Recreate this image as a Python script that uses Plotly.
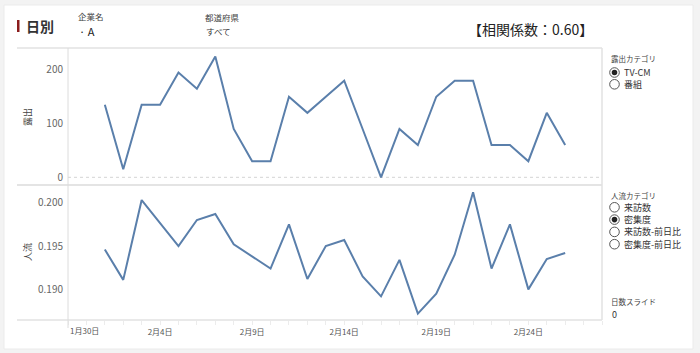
import plotly.graph_objects as go
import pandas as pd

# ---- data ----
dates = pd.date_range("2021-02-01", "2021-02-26", freq="D")
exposure = [135, 15, 135, 135, 195, 165, 225, 90, 30, 30, 150, 120, 150,
            180, 90, 0, 90, 60, 150, 180, 180, 60, 60, 30, 120, 60]
flow = [0.1946, 0.1911, 0.2003, 0.1977, 0.1950, 0.1980, 0.1987, 0.1952,
        0.1938, 0.1924, 0.1975, 0.1912, 0.1950, 0.1957, 0.1915, 0.1892,
        0.1934, 0.1872, 0.1895, 0.1940, 0.2012, 0.1924, 0.1975, 0.1900,
        0.1935, 0.1942]
x_tick_dates = ["2021-02-04", "2021-02-09", "2021-02-14", "2021-02-19", "2021-02-24"]
x_tick_text = ["2月4日", "2月9日", "2月14日", "2月19日", "2月24日"]
first_tick_date = "2021-01-30"
first_tick_text = "1月30日"
y1_ticks = [0, 100, 200]
y2_ticks = [0.190, 0.195, 0.200]
exposure_options = ["TV-CM", "番組"]
flow_options = ["来訪数", "密集度", "来訪数-前日比", "密集度-前日比"]

W, H = 700, 353
def px(x): return x / W
def py(y): return 1 - y / H

FONT = "Noto Sans CJK JP, Noto Sans, sans-serif"
LINE = "#5a7fab"
GRID = "#e2e2e2"

fig = go.Figure()
fig.add_trace(go.Scatter(x=dates, y=exposure, mode="lines",
                         line=dict(color=LINE, width=2), xaxis="x", yaxis="y",
                         showlegend=False, hoverinfo="skip"))
fig.add_trace(go.Scatter(x=dates, y=flow, mode="lines",
                         line=dict(color=LINE, width=2), xaxis="x2", yaxis="y2",
                         showlegend=False, hoverinfo="skip"))

xdom = [px(68), px(602)]
xrange = ["2021-01-30", "2021-02-28"]
fig.update_layout(
    width=W, height=H, margin=dict(l=0, r=0, t=0, b=0),
    paper_bgcolor="#f3f3f3", plot_bgcolor="white",
    font=dict(family=FONT, color="#555"),
    xaxis=dict(domain=xdom, range=xrange, showticklabels=False, showgrid=False,
               zeroline=False, anchor="y", matches="x2", showline=False),
    yaxis=dict(domain=[py(185), py(48)], range=[-14.3, 240.8], tickvals=y1_ticks,
               showgrid=False, zeroline=False, showline=False, ticks="",
               tickfont=dict(size=10, color="#666"), ticklabelstandoff=4,
               anchor="x"),
    xaxis2=dict(domain=xdom, range=xrange, showgrid=False, zeroline=False,
                tickvals=x_tick_dates, ticktext=x_tick_text, ticks="outside",
                ticklen=4, tickcolor="#ececec", showline=False,
                tickfont=dict(size=8, color="#555"),
                minor=dict(dtick=86400000, ticks="outside", ticklen=4, tickcolor="#ececec"),
                anchor="y2"),
    yaxis2=dict(domain=[py(320), py(185)], range=[0.18647, 0.20204], tickvals=y2_ticks,
                tickformat=".3f", showgrid=False, zeroline=False, showline=False,
                ticks="", tickfont=dict(size=10, color="#666"), ticklabelstandoff=4,
                anchor="x2"),
)

shapes = []
# card
shapes.append(dict(type="rect", xref="paper", yref="paper", x0=px(4), x1=px(693),
                   y0=py(349), y1=py(5), fillcolor="white", line=dict(color="#ebebeb", width=1),
                   layer="below"))
# frame lines
def hline(y, x0, x1, w=1, c=GRID):
    shapes.append(dict(type="line", xref="paper", yref="paper", x0=px(x0), x1=px(x1),
                       y0=py(y), y1=py(y), line=dict(color=c, width=w)))
def vline(x, y0, y1, w=1, c=GRID):
    shapes.append(dict(type="line", xref="paper", yref="paper", x0=px(x), x1=px(x),
                       y0=py(y0), y1=py(y1), line=dict(color=c, width=w)))
hline(48, 17, 602, 1.5)
hline(185, 17, 602, 2, "#e4e4e4")
hline(320, 17, 602, 1.5)
vline(68, 48, 328, 1, "#dcdcdc")
vline(602, 48, 320, 1.5)
# zero dotted line
shapes.append(dict(type="line", xref="x", yref="y", x0=xrange[0], x1=xrange[1], y0=0, y1=0,
                   line=dict(color="#d4d4d4", width=1, dash="dot"), layer="below"))
# red marker bar
shapes.append(dict(type="rect", xref="paper", yref="paper", x0=px(17), x1=px(19.5),
                   y0=py(32), y1=py(20), fillcolor="#8b1c1c", line=dict(width=0)))

# radio buttons
def radio(cx, cy, selected):
    r = 4.8
    shapes.append(dict(type="circle", xref="paper", yref="paper",
                       x0=px(cx - r), x1=px(cx + r), y0=py(cy + r), y1=py(cy - r),
                       fillcolor="white", line=dict(color="#555", width=1)))
    if selected:
        r2 = 2.8
        shapes.append(dict(type="circle", xref="paper", yref="paper",
                           x0=px(cx - r2), x1=px(cx + r2), y0=py(cy + r2), y1=py(cy - r2),
                           fillcolor="#222", line=dict(width=0)))

ann = []
def text(x, y, s, size, color="#333", xanchor="left", bold=False, **kw):
    ann.append(dict(xref="paper", yref="paper", x=px(x), y=py(y), text=("<b>%s</b>" % s) if bold else s,
                    showarrow=False, xanchor=xanchor, yanchor="middle",
                    font=dict(size=size, color=color, family=FONT), **kw))

text(24, 26, "日別", 14, "#333", bold=True)
text(76, 16.5, "企業名", 8.5, "#444")
text(77, 30.5, "· A", 11, "#222")
text(203, 17, "都道府県", 8.5, "#444")
text(204, 30.5, "すべて", 8.5, "#333")
text(466, 28.5, "【相関係数：0.60】", 14, "#222")

text(609, 59, "露出カテゴリ", 7.5, "#444")
for i, opt in enumerate(exposure_options):
    cy = 72.5 + i * 11.8
    radio(614.5, cy, i == 0)
    text(622, cy, opt, 9, "#333")

text(609, 195, "人流カテゴリ", 7.5, "#444")
for i, opt in enumerate(flow_options):
    cy = 207.3 + i * 12.3
    radio(614.5, cy, i == 1)
    text(622, cy, opt, 9, "#333")

text(609, 301.5, "日数スライド", 7.5, "#444")
text(610, 314.5, "0", 9, "#333")

# y titles
text(28, 117, "露出", 9, "#444", xanchor="center", textangle=-90)
text(28, 252, "人流", 9, "#444", xanchor="center", textangle=-90)

# first x tick label (shifted inside the pane like the original)
ann.append(dict(xref="x2", yref="paper", x=first_tick_date, y=py(330), text=first_tick_text,
                showarrow=False, xanchor="left", yanchor="middle",
                font=dict(size=8, color="#555", family=FONT)))

fig.update_layout(shapes=shapes, annotations=ann)
fig.write_html("out.html")
